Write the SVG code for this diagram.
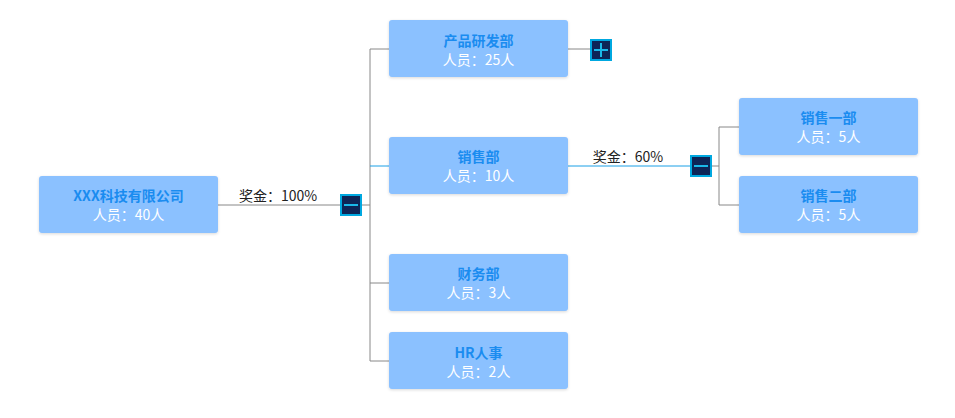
<svg xmlns="http://www.w3.org/2000/svg" width="955" height="418" viewBox="0 0 955 418">
<defs>
<filter id="sh" x="-10%" y="-10%" width="120%" height="130%"><feDropShadow dx="0" dy="1" stdDeviation="1.5" flood-color="#000" flood-opacity="0.15"/></filter>
</defs>
<style>
.n{fill:#8bc1ff;filter:url(#sh)}
.t{font-family:"Noto Sans CJK SC","Liberation Sans",sans-serif;font-size:14px;text-anchor:middle}
.h{fill:#1a8cf0;font-weight:bold}
.s{fill:#ffffff}
.l{fill:none;stroke:#888;stroke-width:1}
.b{fill:none;stroke:#1aa0e6;stroke-width:1}
.lab{font-family:"Noto Sans CJK SC","Liberation Sans",sans-serif;font-size:14px;fill:#222}
.tg{fill:#0d2557;stroke:#00a8e0;stroke-width:2}
.tl{stroke:#1ab8e8;stroke-width:2}
</style>
<g id="connectors">
<path class="l" d="M218 205H340M361 205H370M370 49V361M370 49H389M370 283H389M370 361H389M568 49H590M711 166H719M719 127V205M719 127H739M719 205H739"/>
<path class="b" d="M370 166H389M568 166H690"/>
<text class="lab" x="278" y="201" text-anchor="middle">奖金：100%</text>
<text class="lab" x="628" y="162" text-anchor="middle">奖金：60%</text>
</g>
<g id="root"><rect class="n" x="39" y="176" width="179" height="57" rx="3"/><text class="t h" x="128.5" y="201">XXX科技有限公司</text><text class="t s" x="128.5" y="220">人员：40人</text></g>
<g id="toggle-root"><rect class="tg" x="341" y="195" width="20" height="20"/><line class="tl" x1="344" y1="205" x2="358" y2="205"/></g>
<g id="product"><rect class="n" x="389" y="20" width="179" height="57" rx="3"/><text class="t h" x="478.5" y="46">产品研发部</text><text class="t s" x="478.5" y="65">人员：25人</text></g>
<g id="toggle-product"><rect class="tg" x="591" y="40" width="20" height="20"/><line class="tl" x1="594" y1="50" x2="608" y2="50"/><line class="tl" x1="601" y1="43" x2="601" y2="57"/></g>
<g id="sales"><rect class="n" x="389" y="137" width="179" height="57" rx="3"/><text class="t h" x="478.5" y="162">销售部</text><text class="t s" x="478.5" y="181">人员：10人</text></g>
<g id="toggle-sales"><rect class="tg" x="691" y="156" width="20" height="20"/><line class="tl" x1="694" y1="166" x2="708" y2="166"/></g>
<g id="finance"><rect class="n" x="389" y="254" width="179" height="57" rx="3"/><text class="t h" x="478.5" y="279">财务部</text><text class="t s" x="478.5" y="298">人员：3人</text></g>
<g id="hr"><rect class="n" x="389" y="332" width="179" height="57" rx="3"/><text class="t h" x="478.5" y="358">HR人事</text><text class="t s" x="478.5" y="377">人员：2人</text></g>
<g id="sales1"><rect class="n" x="739" y="98" width="179" height="57" rx="3"/><text class="t h" x="828.5" y="123">销售一部</text><text class="t s" x="828.5" y="142">人员：5人</text></g>
<g id="sales2"><rect class="n" x="739" y="176" width="179" height="57" rx="3"/><text class="t h" x="828.5" y="201">销售二部</text><text class="t s" x="828.5" y="220">人员：5人</text></g>
</svg>
